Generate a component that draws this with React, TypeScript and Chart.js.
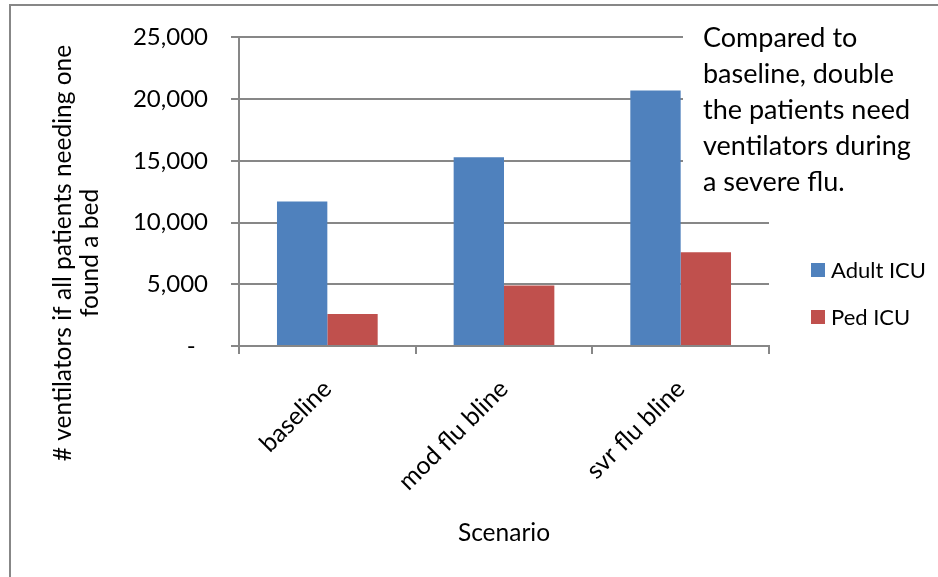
import React, { useEffect, useRef } from "react";
import { Chart, registerables } from "chart.js";

Chart.register(...registerables);

const categories = ["baseline", "mod flu bline", "svr flu bline"];
const adultIcu = [11700, 15300, 20700];
const pedIcu = [2600, 4900, 7600];
const seriesNames = ["Adult ICU", "Ped ICU"];
const yTicks = [0, 5000, 10000, 15000, 20000, 25000];
const noteLines = [
  "Compared to",
  "baseline, double",
  "the patients need",
  "ventilators during",
  "a severe flu.",
];
const yTitleLines = ["# ventilators if all patients needing one", "found a bed"];
const xTitle = "Scenario";

const FONT = "Lato, 'Open Sans', sans-serif";
const GRAY = "#878787";
const BLUE = "#4F81BD";
const RED = "#C0504D";

const decorations = {
  id: "decorations",
  afterDraw(chart: any) {
    const ctx = chart.ctx as CanvasRenderingContext2D;
    const W = chart.width;
    const H = chart.height;
    ctx.save();

    // outer frame (top and left edges visible)
    ctx.strokeStyle = GRAY;
    ctx.lineWidth = 2;
    ctx.beginPath();
    ctx.moveTo(10, H + 5);
    ctx.lineTo(10, 5);
    ctx.lineTo(W + 5, 5);
    ctx.stroke();

    // note text box
    ctx.fillStyle = "#ffffff";
    ctx.fillRect(683, 7, W - 683, 196);
    ctx.fillStyle = "#000000";
    ctx.font = `27px ${FONT}`;
    ctx.textAlign = "left";
    ctx.textBaseline = "alphabetic";
    noteLines.forEach((line, i) => {
      ctx.fillText(line, 703, 47 + i * 36);
    });

    // legend
    const ds = chart.data.datasets;
    ds.forEach((d: any, i: number) => {
      const cy = 270 + i * 47;
      ctx.fillStyle = d.backgroundColor;
      ctx.fillRect(811, cy - 7, 14, 14);
      ctx.fillStyle = "#000000";
      ctx.font = `22px ${FONT}`;
      ctx.textBaseline = "middle";
      ctx.fillText(d.label, 831, cy + 1);
    });

    // y axis title
    ctx.save();
    ctx.translate(0, 253);
    ctx.rotate(-Math.PI / 2);
    ctx.font = `24.5px ${FONT}`;
    ctx.textAlign = "center";
    ctx.textBaseline = "middle";
    ctx.fillStyle = "#000000";
    ctx.fillText(yTitleLines[0], 0, 63);
    ctx.fillText(yTitleLines[1], 0, 90);
    ctx.restore();

    // x axis title
    ctx.font = `24.5px ${FONT}`;
    ctx.textAlign = "center";
    ctx.textBaseline = "middle";
    ctx.fillStyle = "#000000";
    const area = chart.chartArea;
    ctx.fillText(xTitle, (area.left + area.right) / 2, 533);

    ctx.restore();
  },
};

export default function App() {
  const ref = useRef<HTMLCanvasElement | null>(null);

  useEffect(() => {
    if (!ref.current) return;
    const chart = new Chart(ref.current, {
      type: "bar",
      data: {
        labels: categories,
        datasets: [
          { label: seriesNames[0], data: adultIcu, backgroundColor: BLUE },
          { label: seriesNames[1], data: pedIcu, backgroundColor: RED },
        ],
      },
      options: {
        responsive: false,
        animation: false,
        layout: { padding: { left: 0, top: 36, right: 169, bottom: 61 } },
        datasets: {
          bar: { categoryPercentage: 0.57, barPercentage: 1 },
        },
        plugins: {
          legend: { display: false },
          tooltip: { enabled: false },
        },
        scales: {
          x: {
            afterFit: (s: any) => {
              s.height = 170;
            },
            grid: {
              offset: true,
              drawOnChartArea: false,
              drawTicks: true,
              tickLength: 8,
              color: GRAY,
              lineWidth: 2,
            },
            border: { color: GRAY, width: 2 },
            ticks: {
              color: "#000000",
              font: { family: FONT, size: 25 },
              maxRotation: 45,
              minRotation: 45,
              autoSkip: false,
              padding: 20,
            },
          },
          y: {
            min: 0,
            max: 25000,
            afterFit: (s: any) => {
              s.width = 239;
            },
            afterBuildTicks: (s: any) => {
              s.ticks = yTicks.map((v) => ({ value: v }));
            },
            grid: {
              color: GRAY,
              lineWidth: 2,
              drawTicks: true,
              tickLength: 8,
            },
            border: { color: GRAY, width: 2 },
            ticks: {
              color: "#000000",
              font: { family: FONT, size: 24 },
              padding: 23,
              callback: (v: any) =>
                Number(v) === 0 ? "-  " : Number(v).toLocaleString("en-US"),
            },
          },
        },
      },
      plugins: [decorations],
    });
    return () => chart.destroy();
  }, []);

  return (
    <div style={{ position: "fixed", left: 0, top: 0, width: 938, height: 577, background: "#ffffff" }}>
      <canvas ref={ref} width={938} height={577} />
    </div>
  );
}
